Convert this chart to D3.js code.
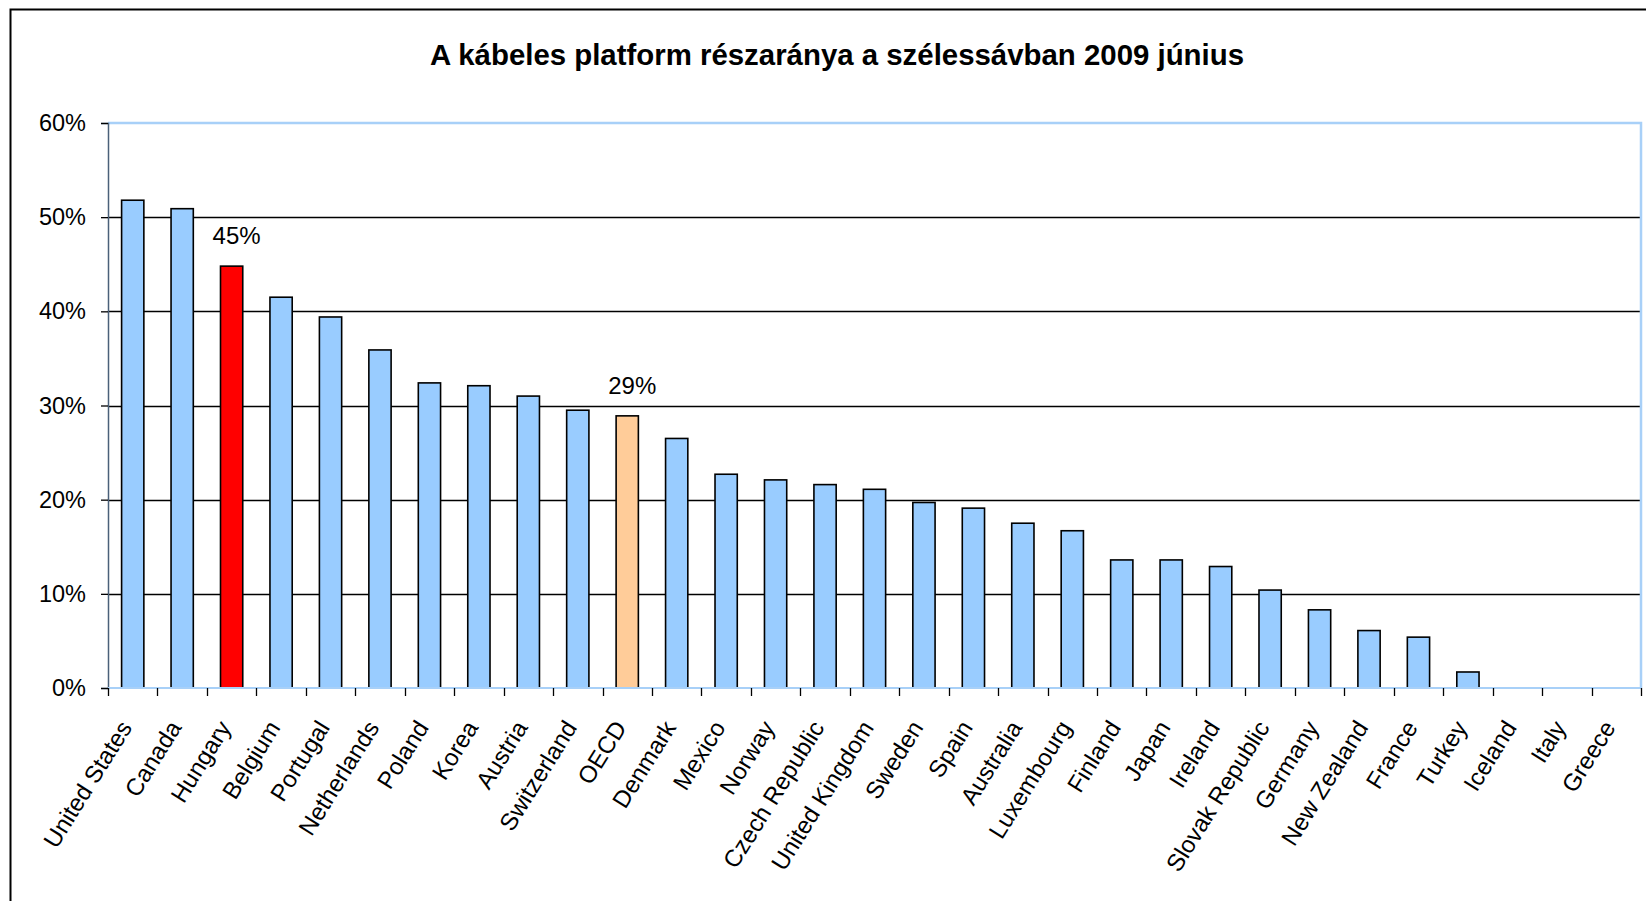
<!DOCTYPE html>
<html>
<head>
<meta charset="utf-8">
<script src="https://cdn.jsdelivr.net/npm/d3@7"></script>
<style>
  body { margin: 0; background: #fff; }
  svg { display: block; font-family: "Liberation Sans", Arial, sans-serif; }
</style>
</head>
<body>
<div id="chart"></div>
<script>
// adatok
const countries = ["United States","Canada","Hungary","Belgium","Portugal","Netherlands","Poland","Korea","Austria","Switzerland","OECD","Denmark","Mexico","Norway","Czech Republic","United Kingdom","Sweden","Spain","Australia","Luxembourg","Finland","Japan","Ireland","Slovak Republic","Germany","New Zealand","France","Turkey","Iceland","Italy","Greece"];
const cableShare = [51.8,50.9,44.8,41.5,39.4,35.9,32.4,32.1,31.0,29.5,28.9,26.5,22.7,22.1,21.6,21.1,19.7,19.1,17.5,16.7,13.6,13.6,12.9,10.4,8.3,6.1,5.4,1.7,0,0,0];
const yTicks = [0,10,20,30,40,50,60];
const highlight = {"Hungary":"#ff0000","OECD":"#ffcc99"};
const labelled = ["Hungary","OECD"];
const title = "A kábeles platform részaránya a szélessávban 2009 június";

const W = 1646, H = 901;
const margin = {top:123, left:108, right:5, bottom:213};
const width = W - margin.left - margin.right;
const height = H - margin.top - margin.bottom;

const svg = d3.select("#chart").append("svg")
  .attr("width", W).attr("height", H);

// keret
svg.append("rect")
  .attr("x", 10.5).attr("y", 9.5)
  .attr("width", 1700).attr("height", 1000)
  .style("fill", "none").style("stroke", "#000").style("stroke-width", 2);

svg.append("text")
  .attr("x", 837).attr("y", 65)
  .attr("text-anchor", "middle")
  .style("font-size", "29.4px").style("font-weight", "bold")
  .text(title);

const g = svg.append("g")
  .attr("transform", "translate(" + margin.left + "," + margin.top + ")");

const x = d3.scaleBand().domain(countries).range([0, width]);
const y = d3.scaleLinear().domain([0, 60]).range([height, 0]);

// racsvonalak
g.selectAll(".grid")
  .data(yTicks.filter(d => d > 0 && d < 60))
  .enter().append("line")
  .attr("x1", 0).attr("x2", width)
  .attr("y1", d => Math.round(y(d)) + 0.5).attr("y2", d => Math.round(y(d)) + 0.5)
  .style("stroke", "#000").style("stroke-width", 1.3);

// plot keret felso es jobb oldal
g.append("path")
  .attr("d", "M0," + y(60) + "H" + width + "V" + height)
  .style("fill", "none").style("stroke", "#a8d0f8").style("stroke-width", 2.5);

// oszlopok
const barW = x.bandwidth() * 0.45;
g.selectAll(".bar")
  .data(countries)
  .enter().append("rect")
  .attr("x", d => x(d) + (x.bandwidth() - barW) / 2)
  .attr("y", (d, i) => y(cableShare[i]))
  .attr("width", barW)
  .attr("height", (d, i) => height - y(cableShare[i]))
  .style("fill", d => highlight[d] || "#99ccff")
  .style("stroke", "#000").style("stroke-width", 1.6);

// adatfeliratok
g.selectAll(".lbl")
  .data(labelled)
  .enter().append("text")
  .attr("x", d => x(d) + x.bandwidth() / 2 + 5)
  .attr("y", d => y(cableShare[countries.indexOf(d)]) - 22)
  .attr("text-anchor", "middle")
  .style("font-size", "24px")
  .text(d => Math.round(cableShare[countries.indexOf(d)]) + "%");

// y tengely
const yAxis = g.append("g")
  .call(d3.axisLeft(y).tickValues(yTicks).tickSize(7).tickPadding(15).tickFormat(d => d + "%"));
yAxis.select(".domain").style("stroke", "#4a6079").style("stroke-width", 1.5);
yAxis.selectAll(".tick line").style("stroke", "#000").style("stroke-width", 1.3);
yAxis.selectAll("text").style("font-size", "23.5px").style("fill", "#000").style("font-family", "Liberation Sans, Arial, sans-serif");

// x tengely
g.append("line")
  .attr("x1", 0).attr("x2", width)
  .attr("y1", height).attr("y2", height)
  .style("stroke", "#a8d0f8").style("stroke-width", 2);

const bounds = countries.map(d => x(d)).concat([width]);
g.selectAll(".xtick")
  .data(bounds)
  .enter().append("line")
  .attr("x1", d => Math.round(d) + 0.5).attr("x2", d => Math.round(d) + 0.5)
  .attr("y1", height).attr("y2", height + 8)
  .style("stroke", "#000").style("stroke-width", 1.3);

g.selectAll(".xlab")
  .data(countries)
  .enter().append("text")
  .attr("transform", d => "translate(" + (x(d) + x.bandwidth() / 2 - 7) + "," + (height + 35) + ") rotate(-58)")
  .attr("text-anchor", "end")
  .attr("dy", "0.35em")
  .style("font-size", "24px")
  .text(d => d);
</script>
</body>
</html>
